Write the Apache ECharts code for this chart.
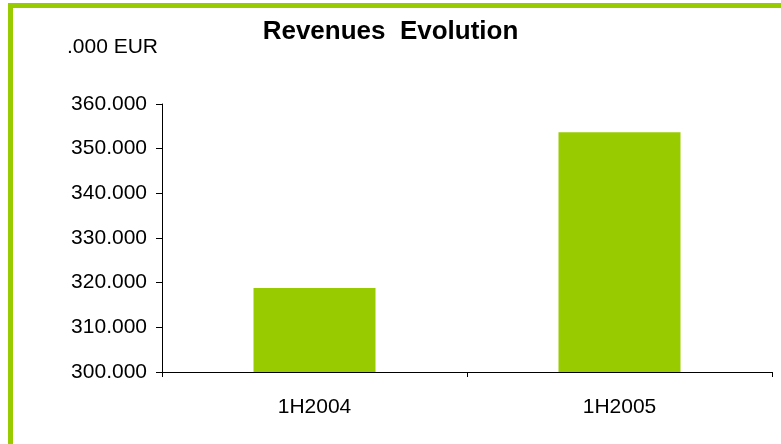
<!DOCTYPE html>
<html>
<head>
<meta charset="utf-8">
<script src="https://cdn.jsdelivr.net/npm/echarts@6/dist/echarts.min.js"></script>
<style>html,body{margin:0;padding:0;background:#fff}#c{width:781px;height:444px}</style>
</head>
<body>
<div id="c"></div>
<script>
const categories = ['1H2004', '1H2005'];
const revenues = [318.8, 353.7];
const yMin = 300, yMax = 360, yStep = 10;
const titleText = 'Revenues  Evolution';
const unitLabel = '.000 EUR';

const chart = echarts.init(document.getElementById('c'), null, {renderer: 'canvas'});
const font = 'Liberation Sans, Arial, sans-serif';
chart.setOption({
  animation: false,
  backgroundColor: '#fff',
  title: {
    text: titleText, left: 'center', top: 14,
    textStyle: {fontFamily: font, fontSize: 26, fontWeight: 'bold', color: '#000'}
  },
  graphic: [
    {type: 'rect', shape: {x: 8, y: 3, width: 773, height: 5}, style: {fill: '#99CC00'}, silent: true},
    {type: 'rect', shape: {x: 8, y: 3, width: 5, height: 441}, style: {fill: '#99CC00'}, silent: true}
  ],
  grid: {left: 162, right: 9, top: 104, bottom: 72, containLabel: false},
  xAxis: {
    type: 'category', data: categories,
    axisLine: {lineStyle: {color: '#000', width: 1}},
    axisTick: {show: true, length: 5, lineStyle: {color: '#000'}},
    axisLabel: {fontFamily: font, fontSize: 21, color: '#000', margin: 25}
  },
  yAxis: {
    type: 'value', min: yMin, max: yMax, interval: yStep,
    name: unitLabel, nameLocation: 'end', nameGap: 46,
    nameTextStyle: {fontFamily: font, fontSize: 21, color: '#000', align: 'right', padding: [0, 4, 0, 0]},
    axisLine: {show: true, lineStyle: {color: '#000', width: 1}},
    axisTick: {show: true, length: 6, lineStyle: {color: '#000'}},
    splitLine: {show: false},
    axisLabel: {fontFamily: font, fontSize: 21, color: '#000', margin: 15,
      formatter: v => v + '.000'}
  },
  series: [{
    type: 'bar', data: revenues, barWidth: '40%',
    itemStyle: {color: '#99CC00'}
  }]
});
</script>
</body>
</html>
